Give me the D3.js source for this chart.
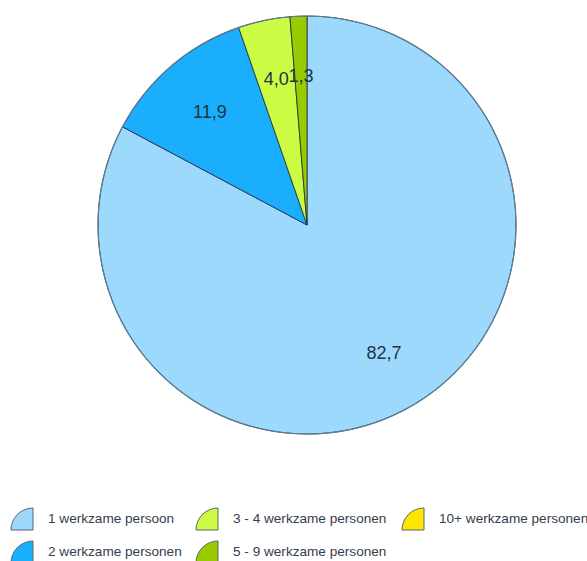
<!DOCTYPE html>
<html>
<head>
<meta charset="utf-8">
<script src="https://cdn.jsdelivr.net/npm/d3@7"></script>
<style>
  body { margin: 0; background: #fff; }
  svg { display: block; font-family: "Liberation Sans", Arial, sans-serif; }
</style>
</head>
<body>
<svg id="chart" width="587" height="561"></svg>
<script>
// categorieen en waarden (percentages)
var categorieen = ["1 werkzame persoon", "2 werkzame personen", "3 - 4 werkzame personen", "5 - 9 werkzame personen", "10+ werkzame personen"];
var waarden = [82.7, 11.9, 4.0, 1.3, 0.0];
var kleuren = ["#9dd9fd", "#1aaefc", "#ccfb44", "#99cc00", "#ffe600"];
// volgorde in de legenda (kolom voor kolom)
var legendaVolgorde = [0, 2, 4, 1, 3];

var svg = d3.select("#chart"),
    cx = 307, cy = 225, R = 209;

var data = categorieen.map(function(c, i) { return { cat: c, waarde: waarden[i], kleur: kleuren[i] }; });

var pie = d3.pie().sort(null).value(function(d) { return d.waarde; });
var arc = d3.arc().innerRadius(0).outerRadius(R);
var labelArc = d3.arc().innerRadius(R * 0.715).outerRadius(R * 0.715);

// met de klok mee vanaf 12 uur
var hoeken = pie.startAngle(0).endAngle(2 * Math.PI)(data);

var g = svg.append("g").attr("transform", "translate(" + cx + "," + cy + ")");

g.selectAll("path.slice")
    .data(hoeken.filter(function(d) { return d.data.waarde > 0; }))
  .enter().append("path")
    .attr("class", "slice")
    .attr("d", arc)
    .attr("fill", function(d) { return d.data.kleur; })
    .attr("stroke", "#1b2b3b")
    .attr("stroke-width", 0.8);

// buitenrand
g.append("circle")
    .attr("r", R)
    .attr("fill", "none")
    .attr("stroke", "#5d7d92")
    .attr("stroke-width", 1.2);

var fmt = function(v) { return d3.format(".1f")(v).replace(".", ","); };

g.selectAll("text.label")
    .data(hoeken.filter(function(d) { return d.data.waarde > 0; }))
  .enter().append("text")
    .attr("class", "label")
    .attr("transform", function(d) { return "translate(" + labelArc.centroid(d) + ")"; })
    .attr("text-anchor", "middle")
    .attr("dy", "0.35em")
    .style("font-size", "18px")
    .style("fill", "#1f3346")
    .text(function(d) { return fmt(d.data.waarde); });

// legenda
var kolomX = [11, 196, 402],
    rijY = [530, 563];

var kwart = d3.arc().innerRadius(0).outerRadius(22).startAngle(-Math.PI / 2).endAngle(0);

legendaVolgorde.forEach(function(idx, n) {
    var kol = n < 3 ? n : n - 3,
        rij = n < 3 ? 0 : 1;
    var item = svg.append("g")
        .attr("transform", "translate(" + (kolomX[kol] + 22) + "," + rijY[rij] + ")");
    item.append("path")
        .attr("d", kwart)
        .attr("fill", kleuren[idx])
        .attr("stroke", "#5a6470")
        .attr("stroke-width", 1);
    item.append("text")
        .attr("x", 15)
        .attr("y", -12)
        .attr("dy", "0.35em")
        .style("font-size", "13.6px")
        .style("fill", "#34404e")
        .text(categorieen[idx]);
});
</script>
</body>
</html>
